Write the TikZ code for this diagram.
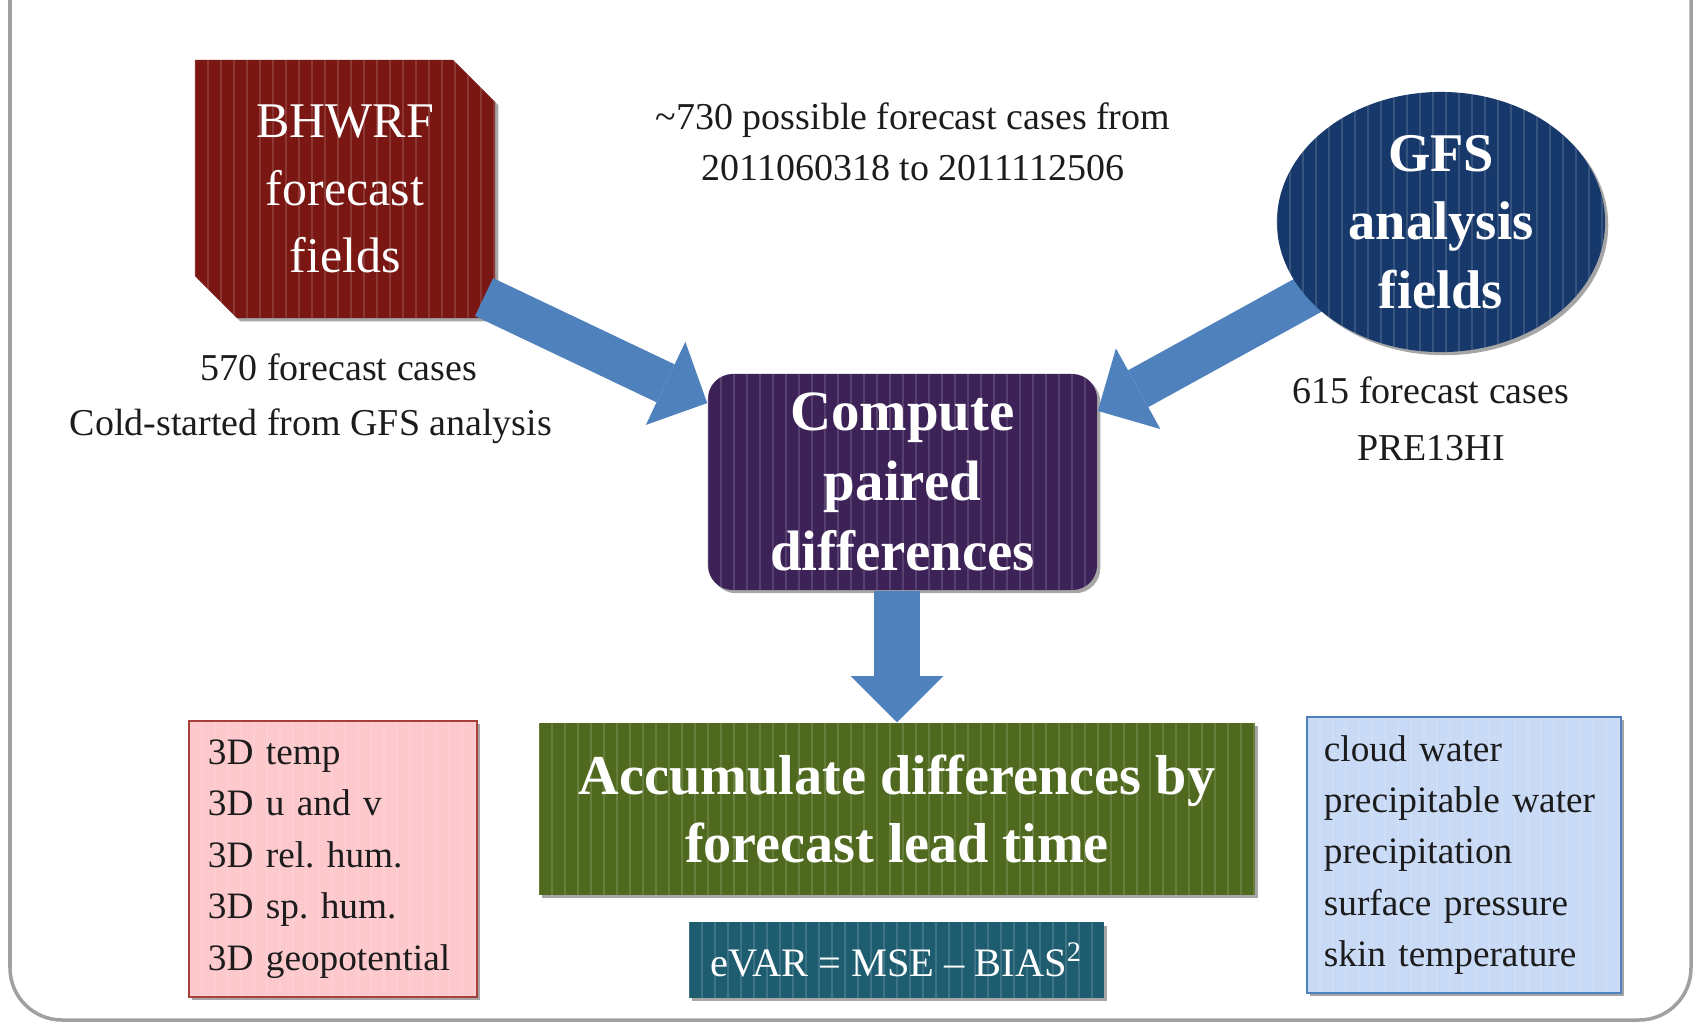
\documentclass[tikz,border=0pt]{standalone}
\usepackage{fontspec}
\setmainfont{Liberation Serif}
\usepackage{xcolor,tikz}
\usetikzlibrary{arrows.meta,shapes.geometric,shapes.misc,shadows}
\frenchspacing
\definecolor{arrowblue}{HTML}{4F81BD}
\definecolor{wrfred}{HTML}{7A1712}
\definecolor{gfsblue}{HTML}{17386A}
\definecolor{diffpurple}{HTML}{3D2258}
\definecolor{accgreen}{HTML}{4F6A1E}
\definecolor{evarteal}{HTML}{1E5C70}
\definecolor{pinkfill}{HTML}{FDC9CC}
\definecolor{pinkline}{HTML}{A5403C}
\definecolor{bluefill}{HTML}{C9DAF6}
\definecolor{framegray}{HTML}{A0A0A0}
\definecolor{notetext}{HTML}{1C1C1C}

\tikzset{
  stripes/.style={path picture={
    \foreach \k in {0,...,60}
      \draw[white,opacity=#1,line width=0.6pt]
        ([xshift=\k*3.7pt]path picture bounding box.south west) --
        ([xshift=\k*3.7pt]path picture bounding box.north west);}},
  stripes/.default=0.14,
  boxshadow/.style={drop shadow={shadow xshift=0.9pt,shadow yshift=-0.9pt,opacity=0.35,fill=black}},
  note/.style={text=notetext,font=\fontsize{10.8}{14.5}\selectfont,align=center,inner sep=0pt},
  listbox/.style={rectangle,draw,line width=0.7pt,inner xsep=0.19cm,inner ysep=0pt,align=left,
    minimum height=2.76cm,text=notetext,font=\fontsize{10.6}{14.6}\selectfont,
    boxshadow,stripes=0.12},
  bigbox/.style={inner sep=0pt,text=white,align=center,boxshadow,stripes},
  flowarrow/.style={arrowblue,line width=0.42cm,-{Triangle[width=0.92cm,length=0.46cm,line width=0pt]}},
}

\begin{document}
\begin{tikzpicture}[x=0.01cm,y=-0.01cm]
\useasboundingbox (0,0) rectangle (1696,1023);
% frame
\draw[framegray,line width=1pt,rounded corners=0.52cm] (10,-10) -- (10,1020) -- (1691,1020) -- (1691,-10);

\node[bigbox,chamfered rectangle,chamfered rectangle corners={north east,south west},
  chamfered rectangle xsep=0.21cm,chamfered rectangle ysep=0.21cm,
  minimum width=3cm,minimum height=2.58cm,fill=wrfred,
  font=\fontsize{14.2}{19.1}\selectfont] (bhwrf) at (345,189) {BHWRF\\forecast\\fields};

\node[note] (span) at (913,142) {\textasciitilde730 possible forecast cases from\\2011060318 to 2011112506};
\node[note] (wrfcases) at (339,367) {570 forecast cases};
\node[note] (wrfcold) at (311,426) {Cold-started from GFS analysis};
\node[note] (gfscases) at (1431,390) {615 forecast cases};
\node[note] (gfstag) at (1431,448) {PRE13HI};

\node[bigbox,rectangle,rounded corners=0.25cm,minimum width=3.89cm,minimum height=2.16cm,
  fill=diffpurple,font=\bfseries\fontsize{16.2}{19.9}\selectfont] (compute) at (902.5,482) {Compute\\paired\\differences};

\node[bigbox,rectangle,minimum width=7.16cm,minimum height=1.72cm,fill=accgreen,
  font=\bfseries\fontsize{16}{19.1}\selectfont] (accum) at (897,809) {Accumulate differences by\\forecast lead time};

\node[bigbox,rectangle,minimum width=4.15cm,minimum height=0.75cm,fill=evarteal,
  font=\fontsize{11.5}{14}\selectfont] (evar) at (896.5,960) {eVAR = MSE – BIAS\textsuperscript{2}};

\node[listbox,draw=pinkline,fill=pinkfill,text width=2.5cm] (upper) at (333,859)
  {3D temp\\3D u and v\\3D rel. hum.\\3D sp. hum.\\3D geopotential};
\node[listbox,inner xsep=0.17cm,draw=arrowblue,fill=bluefill,text width=2.8cm] (surface) at (1464,855)
  {cloud water\\precipitable water\\precipitation\\surface pressure\\skin temperature};

% arrows
\draw[flowarrow,shorten <=-0.13cm] (bhwrf.-37) -- (compute.158.5);
\draw[flowarrow,line width=0.46cm] (compute.south -| accum.north) -- (accum.north);
\coordinate (gfsc) at (1441,222);
\draw[flowarrow] (gfsc) -- (compute.20.8);

\node[bigbox,ellipse,minimum width=3.28cm,minimum height=2.6cm,fill=gfsblue] (gfs) at (gfsc) {};
\node[text=white,align=center,inner sep=0pt,font=\bfseries\fontsize{15.5}{19.5}\selectfont] (gfslabel) at (gfsc) {GFS\\analysis\\fields};
\end{tikzpicture}
\end{document}
